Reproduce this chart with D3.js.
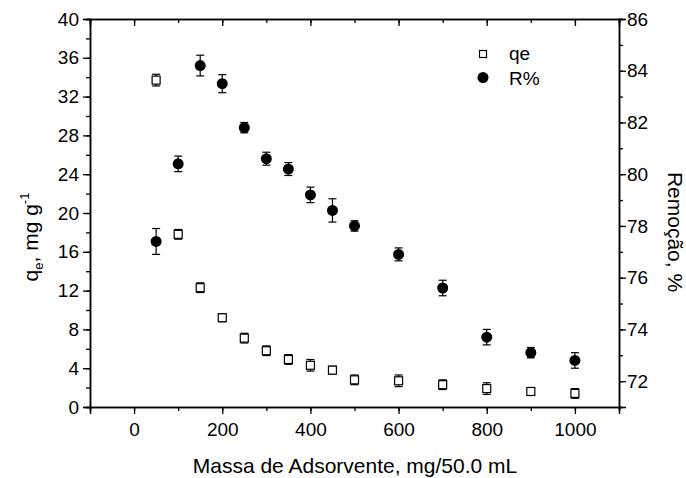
<!DOCTYPE html>
<html>
<head>
<meta charset="utf-8">
<script src="https://cdn.jsdelivr.net/npm/d3@7"></script>
<style>
  body { margin: 0; background: #fff; }
  svg text { font-family: "Liberation Sans", Arial, sans-serif; fill: #000; }
</style>
</head>
<body>
<svg width="686" height="478"></svg>
<script>
// data
const massa = [50, 100, 150, 200, 250, 300, 350, 400, 450, 500, 600, 700, 800, 900, 1000];
const qe = [33.7, 17.8, 12.3, 9.2, 7.1, 5.8, 4.9, 4.3, 3.8, 2.8, 2.7, 2.3, 1.9, 1.6, 1.4];
const qeErr = [0.6, 0.5, 0.5, 0.4, 0.5, 0.5, 0.5, 0.6, 0.4, 0.5, 0.6, 0.5, 0.6, 0.4, 0.5];
const remocao = [77.4, 80.4, 84.2, 83.5, 81.8, 80.6, 80.2, 79.2, 78.6, 78.0, 76.9, 75.6, 73.7, 73.1, 72.8];
const remErr = [0.5, 0.3, 0.4, 0.35, 0.2, 0.25, 0.25, 0.3, 0.45, 0.2, 0.25, 0.3, 0.3, 0.2, 0.3];
const legendLabels = ['qe', 'R%'];

const svg = d3.select('svg');
const mLeft = 90, mRight = 619, mTop = 19, mBottom = 407;

const x = d3.scaleLinear().domain([-100, 1100]).range([mLeft, mRight]);
const yL = d3.scaleLinear().domain([0, 40]).range([mBottom, mTop]);
const yR = d3.scaleLinear().domain([71, 86]).range([mBottom, mTop]);

// axes
function styleAxis(g) {
    g.selectAll('path').attr('stroke', '#000').attr('stroke-width', 1.5);
    g.selectAll('line').attr('stroke', '#000').attr('stroke-width', 1.3);
    g.selectAll('text').style('font-size', '19px');
}
// minor ticks first
svg.append('g').attr('transform', `translate(0,${mBottom})`)
    .call(d3.axisBottom(x).tickValues(d3.range(-100, 1101, 100)).tickSize(4).tickFormat(''))
    .call(styleAxis);
svg.append('g').attr('transform', `translate(0,${mBottom})`)
    .call(d3.axisBottom(x).tickValues(d3.range(0, 1001, 200)).tickSize(7).tickPadding(9).tickFormat(d3.format('d')))
    .call(styleAxis);
svg.append('g').attr('transform', `translate(0,${mTop})`)
    .call(d3.axisBottom(x).tickValues(d3.range(-100, 1101, 100)).tickSize(4).tickFormat(''))
    .call(styleAxis);
svg.append('g').attr('transform', `translate(0,${mTop})`)
    .call(d3.axisBottom(x).tickValues(d3.range(0, 1001, 200)).tickSize(7).tickFormat(''))
    .call(styleAxis);

svg.append('g').attr('transform', `translate(${mLeft},0)`)
    .call(d3.axisLeft(yL).tickValues(d3.range(0, 41, 2)).tickSize(4).tickFormat(''))
    .call(styleAxis);
svg.append('g').attr('transform', `translate(${mLeft},0)`)
    .call(d3.axisLeft(yL).tickValues(d3.range(0, 41, 4)).tickSize(7).tickPadding(4))
    .call(styleAxis);

svg.append('g').attr('transform', `translate(${mRight},0)`)
    .call(d3.axisRight(yR).tickValues(d3.range(71, 87, 1)).tickSize(4).tickFormat(''))
    .call(styleAxis);
svg.append('g').attr('transform', `translate(${mRight},0)`)
    .call(d3.axisRight(yR).tickValues(d3.range(72, 87, 2)).tickSize(7).tickPadding(1))
    .call(styleAxis);

// titles
svg.append('text').attr('x', 355).attr('y', 473)
    .attr('text-anchor', 'middle').style('font-size', '21px')
    .text('Massa de Adsorvente, mg/50.0 mL');

const lt = svg.append('text').attr('transform', 'translate(38,237) rotate(-90)')
    .attr('text-anchor', 'middle').style('font-size', '21px');
lt.append('tspan').text('q');
lt.append('tspan').attr('dy', 5).style('font-size', '13px').text('e');
lt.append('tspan').attr('dy', -5).text(', mg g');
lt.append('tspan').attr('dy', -9).style('font-size', '13px').text('-1');

svg.append('text').attr('transform', 'translate(668,232) rotate(90)')
    .attr('text-anchor', 'middle').style('font-size', '21px')
    .text('Remoção, %');

// error bars
function errorBars(xs, ys, errs, yScale) {
    const g = svg.append('g').attr('stroke', '#000').attr('stroke-width', 1.2);
    xs.forEach((d, i) => {
        const y1 = yScale(ys[i] - errs[i]), y2 = yScale(ys[i] + errs[i]);
        g.append('line').attr('x1', x(d)).attr('x2', x(d)).attr('y1', y1).attr('y2', y2);
        g.append('line').attr('x1', x(d) - 4).attr('x2', x(d) + 4).attr('y1', y1).attr('y2', y1);
        g.append('line').attr('x1', x(d) - 4).attr('x2', x(d) + 4).attr('y1', y2).attr('y2', y2);
    });
}
errorBars(massa, qe, qeErr, yL);
errorBars(massa, remocao, remErr, yR);

svg.append('g').selectAll('rect').data(massa).enter().append('rect')
    .attr('x', (d, i) => x(d) - 4).attr('y', (d, i) => yL(qe[i]) - 4)
    .attr('width', 8).attr('height', 8)
    .attr('fill', '#fff').attr('stroke', '#000').attr('stroke-width', 1.2);

svg.append('g').selectAll('circle').data(massa).enter().append('circle')
    .attr('cx', d => x(d)).attr('cy', (d, i) => yR(remocao[i]))
    .attr('r', 5.5).attr('fill', '#000');

// legend
const lg = svg.append('g');
lg.append('rect').attr('x', 479.5).attr('y', 50.5).attr('width', 7).attr('height', 7)
    .attr('fill', '#fff').attr('stroke', '#000').attr('stroke-width', 1.2);
lg.append('circle').attr('cx', 483).attr('cy', 77.5).attr('r', 5.5).attr('fill', '#000');
legendLabels.forEach((t, i) => {
    lg.append('text').attr('x', 509).attr('y', 60 + i * 24.5).style('font-size', '19px').text(t);
});
</script>
</body>
</html>
